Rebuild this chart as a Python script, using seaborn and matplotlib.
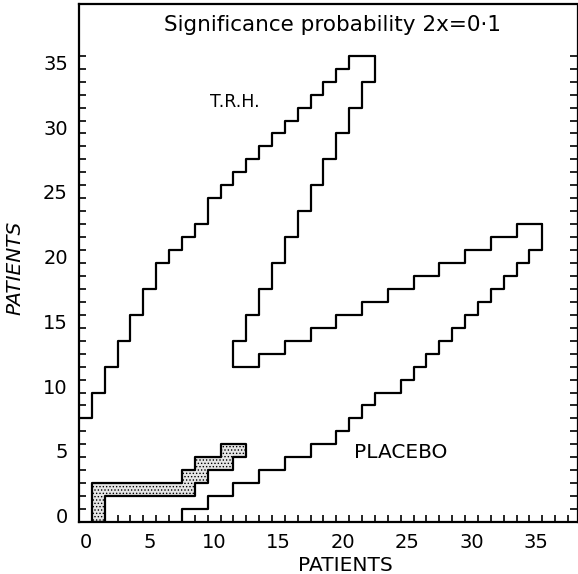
import numpy as np
import seaborn as sns
import matplotlib.pyplot as plt
from matplotlib.ticker import FixedLocator

# Sequential test boundaries (cell edges on the patient lattice)
# T.R.H. boundary, upper-left (drawn steps-post)
trh_x = [-0.5, 0.5, 1.5, 2.5, 3.5, 4.5, 5.5, 6.5, 7.5, 8.5, 9.5, 10.5,
         11.5, 12.5, 13.5, 14.5, 15.5, 16.5, 17.5, 18.5, 19.5, 20.5, 22.5]
trh_y = [7.5, 9.5, 11.5, 13.5, 15.5, 17.5, 19.5, 20.5, 21.5, 22.5, 24.5, 25.5,
         26.5, 27.5, 28.5, 29.5, 30.5, 31.5, 32.5, 33.5, 34.5, 35.5, 35.5]

# inner edge of the T.R.H. wedge (steps-pre)
trh_in_x = [11.5, 12.5, 13.5, 14.5, 15.5, 16.5, 17.5, 18.5, 19.5, 20.5, 21.5, 22.5, 22.5]
trh_in_y = [11.5, 13.5, 15.5, 17.5, 19.5, 21.5, 23.5, 25.5, 27.5, 29.5, 31.5, 33.5, 35.5]

# inner edge of the placebo wedge (steps-post)
pla_in_x = [11.5, 13.5, 15.5, 17.5, 19.5, 21.5, 23.5, 25.5, 27.5, 29.5, 31.5, 33.5, 35.5]
pla_in_y = [11.5, 12.5, 13.5, 14.5, 15.5, 16.5, 17.5, 18.5, 19.5, 20.5, 21.5, 22.5, 22.5]

# placebo boundary, lower-right (steps-pre)
pla_x = [7.5, 9.5, 11.5, 13.5, 15.5, 17.5, 19.5, 20.5, 21.5, 22.5, 24.5, 25.5,
         26.5, 27.5, 28.5, 29.5, 30.5, 31.5, 32.5, 33.5, 34.5, 35.5, 35.5]
pla_y = [-0.5, 0.5, 1.5, 2.5, 3.5, 4.5, 5.5, 6.5, 7.5, 8.5, 9.5, 10.5,
         11.5, 12.5, 13.5, 14.5, 15.5, 16.5, 17.5, 18.5, 19.5, 20.5, 22.5]

# shaded path of the observed trial (step band)
path_x = [0.5, 1.5, 7.5, 8.5, 9.5, 10.5, 11.5, 12.5]
path_lo = [-0.5, 1.5, 1.5, 2.5, 3.5, 3.5, 4.5, 4.5]
path_hi = [2.5, 2.5, 3.5, 4.5, 4.5, 5.5, 5.5, 5.5]

tick_vals = [0, 5, 10, 15, 20, 25, 30, 35]

sns.set_theme(style="ticks")
plt.rcParams['font.family'] = ['DejaVu Sans']
plt.rcParams['text.color'] = 'black'
plt.rcParams['axes.labelcolor'] = 'black'
plt.rcParams['hatch.linewidth'] = 0.6
plt.rcParams['hatch.color'] = '#555555'

fig = plt.figure(figsize=(5.78, 5.74), dpi=100)
ax = fig.add_axes([79 / 578, 52 / 574, 498 / 578, 518 / 574])

lw = 1.6
pieces = [(trh_x, trh_y, 'steps-post'), (trh_in_x, trh_in_y, 'steps-pre'),
          (pla_in_x, pla_in_y, 'steps-post'), (pla_x, pla_y, 'steps-pre')]
for xs, ys, style in pieces:
    sns.lineplot(x=xs, y=ys, ax=ax, sort=False, estimator=None,
                 color='black', linewidth=lw, drawstyle=style)

ax.fill_between(path_x, path_lo, path_hi, step='post', facecolor='#e6e6e6',
                edgecolor='black', hatch='.....', linewidth=lw)

ax.set_xlim(-0.5, 38.2)
ax.set_ylim(-0.5, 39.5)
ax.set_xticks(tick_vals)
ax.set_yticks(tick_vals)
ax.xaxis.set_minor_locator(FixedLocator(np.arange(0.5, 38, 1)))
ax.yaxis.set_minor_locator(FixedLocator(np.arange(0.5, 36, 1)))
ax.tick_params(which='major', length=0, pad=8, labelsize=14, colors='black')
ax.tick_params(which='minor', direction='in', length=5, width=1.2, color='black')
ax.tick_params(axis='x', which='minor', bottom=True, top=False)
ax.tick_params(axis='y', which='minor', left=True, right=True)

for side in ['left', 'bottom', 'top']:
    ax.spines[side].set_linewidth(1.6)
    ax.spines[side].set_color('black')
ax.spines['right'].set_linewidth(0.9)
ax.spines['right'].set_color('black')

ax.set_xlabel('PATIENTS', fontsize=14.5)
ax.xaxis.set_label_coords(0.534, -0.066)
ax.set_ylabel('PATIENTS', fontsize=14.5, fontstyle='italic')
ax.yaxis.set_label_coords(-0.11, 0.49)

ax.text(19.2, 37.9, 'Significance probability 2x=0·1', ha='center', va='center', fontsize=15.5)
ax.text(11.6, 31.9, 'T.R.H.', ha='center', va='center', fontsize=12.5)
ax.text(24.5, 4.87, 'PLACEBO', ha='center', va='center', fontsize=14.5)

fig.savefig('out.png', dpi=100)
